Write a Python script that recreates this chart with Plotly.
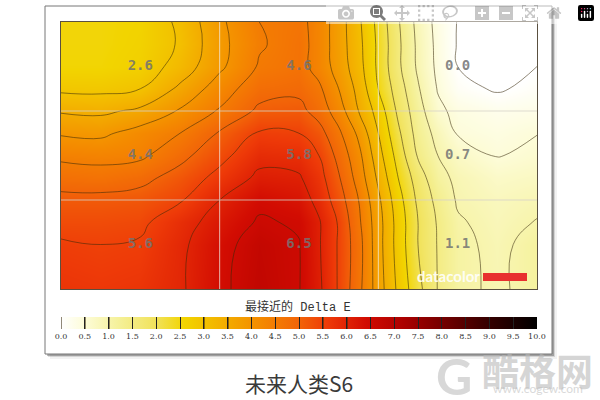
import plotly.graph_objects as go

# Grid positions in twelfths of the plot width / height
x_units = [0, 1, 2, 3, 4, 5, 6, 6.5, 7, 7.5, 8, 8.5, 9, 9.5, 10, 11, 12]
y_units = [0, 1, 2, 3, 4, 5, 6, 7, 8, 9, 10, 12]

# Delta E, top to bottom
row_00 = [2.55, 2.55, 2.62, 3.10, 3.90, 4.50, 4.65, 4.30, 3.75, 3.10, 2.35, 1.55, 0.85, 0.35, -0.02, -0.30, -0.30]
row_01 = [2.55, 2.55, 2.65, 3.05, 3.85, 4.45, 4.70, 4.30, 3.75, 3.15, 2.40, 1.60, 0.90, 0.38, -0.03, -0.35, -0.15]
row_02 = [2.58, 2.58, 2.70, 3.20, 3.90, 4.55, 4.70, 4.30, 3.80, 3.20, 2.40, 1.60, 0.92, 0.40, 0.00, -0.30, 0.00]
row_03 = [2.90, 2.88, 3.00, 3.60, 4.25, 4.80, 4.88, 4.60, 4.00, 3.35, 2.50, 1.75, 1.05, 0.47, 0.13, -0.05, 0.12]
row_04 = [3.45, 3.40, 3.60, 4.05, 4.55, 5.10, 5.15, 4.80, 4.25, 3.50, 2.80, 1.90, 1.20, 0.60, 0.38, 0.25, 0.30]
row_05 = [3.95, 3.90, 4.20, 4.50, 5.05, 5.55, 5.50, 5.20, 4.60, 3.90, 3.00, 2.10, 1.30, 0.85, 0.47, 0.38, 0.49]
row_06 = [4.40, 4.35, 4.40, 4.85, 5.35, 5.85, 5.80, 5.50, 4.85, 4.15, 3.20, 2.30, 1.45, 1.00, 0.72, 0.48, 0.60]
row_07 = [4.75, 4.70, 4.85, 5.20, 5.65, 6.10, 6.05, 5.70, 5.05, 4.30, 3.40, 2.50, 1.75, 1.15, 0.90, 0.68, 0.75]
row_08 = [5.15, 5.15, 5.20, 5.45, 6.00, 6.40, 6.25, 5.85, 5.25, 4.50, 3.60, 2.70, 1.90, 1.35, 0.95, 0.80, 0.90]
row_09 = [5.35, 5.35, 5.40, 5.80, 6.20, 6.55, 6.45, 6.05, 5.45, 4.60, 3.70, 2.80, 2.00, 1.45, 1.05, 0.85, 1.02]
row_10 = [5.55, 5.50, 5.55, 5.90, 6.35, 6.70, 6.52, 6.05, 5.45, 4.70, 3.70, 2.80, 2.00, 1.47, 1.10, 0.90, 1.15]
row_12 = [5.70, 5.65, 5.70, 5.93, 6.40, 6.75, 6.52, 6.10, 5.45, 4.65, 3.75, 2.90, 2.15, 1.48, 1.10, 0.93, 1.15]
z_rows = [row_00, row_01, row_02, row_03, row_04, row_05, row_06, row_07, row_08, row_09, row_10, row_12]

# Printed cell values
label_x = [2, 6, 10]
label_y = [2, 6, 10]
label_values = ["2.6", "4.6", "0.0", "4.4", "5.8", "0.7", "5.6", "6.5", "1.1"]

bar_ticks = [0, 0.5, 1, 1.5, 2, 2.5, 3, 3.5, 4, 4.5, 5, 5.5, 6, 6.5, 7, 7.5, 8, 8.5, 9, 9.5, 10]
bar_tick_labels = ["0.0", "0.5", "1.0", "1.5", "2.0", "2.5", "3.0", "3.5", "4.0", "4.5", "5.0",
                   "5.5", "6.0", "6.5", "7.0", "7.5", "8.0", "8.5", "9.0", "9.5", "10.0"]

colorscale = [
    [0.00, "#ffffff"], [0.05, "#fdfcd8"], [0.12, "#f5f19a"], [0.20, "#f1e25a"], [0.26, "#f2d400"],
    [0.35, "#f3ab00"], [0.42, "#f48a00"], [0.50, "#f26408"], [0.56, "#ee3a08"], [0.64, "#d20c02"],
    [0.72, "#ab0000"], [0.80, "#760000"], [0.88, "#400000"], [1.00, "#000000"],
]

L, T, R, B = 61, 22, 537, 289
W, H = 600, 400


def px(x):
    return (x - L) / (R - L)


def py(y):
    return (B - y) / (B - T)


fig = go.Figure()
fig.add_trace(go.Contour(
    x=x_units, y=y_units, z=z_rows,
    zmin=0, zmax=10, colorscale=colorscale,
    contours=dict(coloring="heatmap", start=0, end=6.5, size=0.5),
    line=dict(color="rgba(55,40,10,0.55)", width=1, smoothing=1.3),
    colorbar=dict(
        orientation="h", x=0, xanchor="left", xref="paper", y=py(317), yanchor="top", yref="paper",
        len=1, lenmode="fraction", thickness=12, thicknessmode="pixels", xpad=0, ypad=0,
        outlinewidth=0, ticks="inside", ticklen=12, tickcolor="#222", tickwidth=1,
        tickmode="array", tickvals=bar_ticks, ticktext=bar_tick_labels,
        tickfont=dict(family="DejaVu Serif", size=8, color="#333"),
        tickangle=0,
    ),
))
fig.add_trace(go.Scatter(
    x=[v for _ in label_y for v in label_x],
    y=[v for v in label_y for _ in label_x],
    mode="text", text=label_values, hoverinfo="skip", showlegend=False,
    textfont=dict(family="DejaVu Sans Mono", size=14, color="rgba(115,115,115,0.85)", weight="bold"),
))

shapes = []
for off, col in ((5, "rgba(0,0,0,0.05)"), (3, "rgba(0,0,0,0.12)"), (2, "rgba(0,0,0,0.25)")):
    shapes.append(dict(type="rect", xref="paper", yref="paper", layer="below",
                       x0=px(45 + off), x1=px(552 + off), y0=py(6 + off), y1=py(354 + off),
                       fillcolor=col, line_width=0))
shapes.append(dict(type="rect", xref="paper", yref="paper", layer="below",
                   x0=px(45), x1=px(552), y0=py(6), y1=py(354),
                   fillcolor="white", line=dict(color="#777", width=1)))
for v in (4, 8):
    shapes.append(dict(type="line", xref="x", yref="paper", x0=v, x1=v, y0=0, y1=1,
                       line=dict(color="rgba(240,235,225,0.75)", width=1)))
    shapes.append(dict(type="line", xref="paper", yref="y", x0=0, x1=1, y0=v, y1=v,
                       line=dict(color="rgba(215,210,200,0.8)", width=1)))
shapes.append(dict(type="rect", xref="paper", yref="paper",
                   x0=px(483), x1=px(527), y0=py(273), y1=py(281),
                   fillcolor="#e8302f", line_width=0))


def note(x, y, text, family, size, color, weight=None):
    font = dict(family=family, size=size, color=color)
    if weight:
        font["weight"] = weight
    return dict(xref="paper", yref="paper", x=px(x), y=py(y), text=text, showarrow=False,
                xanchor="center", yanchor="middle", font=font)


annotations = [
    note(298, 307, "最接近的 Delta E", "Liberation Mono, Noto Sans CJK SC", 12, "#333"),
    note(299, 383, "未来人类S6", "Noto Sans CJK SC", 21, "#3a3a3a"),
    note(448, 276, "datacolor", "Lato", 15, "rgba(255,255,255,0.9)", "bold"),
    note(454, 376, "G", "Lato", 50, "rgba(190,190,190,0.6)", "bold"),
    note(537, 370, "酷格网", "Noto Sans CJK SC", 37, "rgba(185,185,185,0.6)", "bold"),
    note(538, 388, "www.cogew.com", "Lato", 12, "rgba(190,190,190,0.6)"),
]

fig.update_layout(
    width=W, height=H, margin=dict(l=L, r=W - R, t=T, b=H - B, autoexpand=False),
    paper_bgcolor="white", plot_bgcolor="white", showlegend=False,
    xaxis=dict(range=[0, 12], visible=True, showticklabels=False, ticks="", showgrid=False, zeroline=False,
               showline=True, mirror=True, linecolor="#5a5040", linewidth=1),
    yaxis=dict(range=[12, 0], showticklabels=False, ticks="", showgrid=False, zeroline=False,
               showline=True, mirror=True, linecolor="#5a5040", linewidth=1),
    shapes=shapes, annotations=annotations,
)
fig.write_html("out.html", post_script="document.body.style.margin='0';document.documentElement.style.overflow='hidden';")
